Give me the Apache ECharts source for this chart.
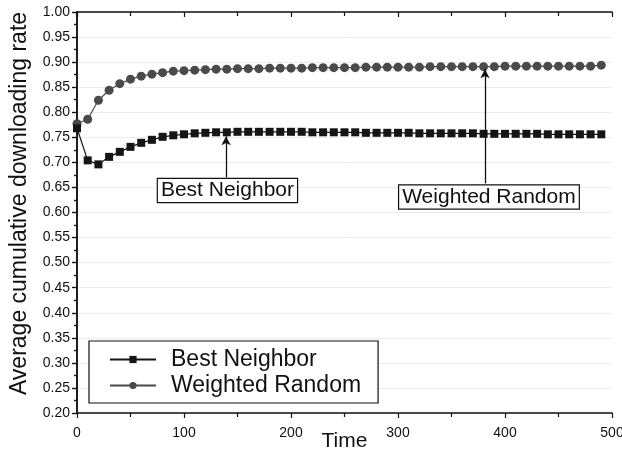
<!DOCTYPE html>
<html>
<head>
<meta charset="utf-8">
<script src="https://cdn.jsdelivr.net/npm/echarts@6/dist/echarts.min.js"></script>
<style>
  html, body { margin: 0; padding: 0; background: #fff; }
  #chart { width: 622px; height: 456px; }
</style>
</head>
<body>
<div id="chart"></div>
<script>
// Simulation time steps
var times = [0, 10, 20, 30, 40, 50, 60, 70, 80, 90,
  100, 110, 120, 130, 140, 150, 160, 170, 180, 190,
  200, 210, 220, 230, 240, 250, 260, 270, 280, 290,
  300, 310, 320, 330, 340, 350, 360, 370, 380, 390,
  400, 410, 420, 430, 440, 450, 460, 470, 480, 490];

// Average cumulative downloading rate per strategy
var bestNeighbor = [0.768, 0.704, 0.696, 0.711, 0.721, 0.731, 0.739, 0.745, 0.751, 0.754,
  0.756, 0.758, 0.759, 0.760, 0.760, 0.761, 0.761, 0.761, 0.761, 0.761,
  0.761, 0.761, 0.760, 0.760, 0.760, 0.760, 0.760, 0.759, 0.759, 0.759,
  0.759, 0.759, 0.758, 0.758, 0.758, 0.758, 0.758, 0.758, 0.757, 0.757,
  0.757, 0.757, 0.757, 0.757, 0.756, 0.756, 0.756, 0.756, 0.756, 0.756];

var weightedRandom = [0.777, 0.786, 0.824, 0.844, 0.857, 0.866, 0.872, 0.876, 0.879, 0.882,
  0.883, 0.884, 0.885, 0.886, 0.886, 0.887, 0.887, 0.887, 0.888, 0.888,
  0.888, 0.888, 0.889, 0.889, 0.889, 0.889, 0.889, 0.890, 0.890, 0.890,
  0.890, 0.890, 0.890, 0.891, 0.891, 0.891, 0.891, 0.891, 0.891, 0.891,
  0.892, 0.892, 0.892, 0.892, 0.892, 0.892, 0.892, 0.892, 0.892, 0.894];

var seriesNames = ['Best Neighbor', 'Weighted Random'];

// Callout boxes: [time, rate] of the label and the arrow from box to curve
var calloutBest = { label: [140.6, 0.644], from: [139.3, 0.670], to: [139.3, 0.752] };
var calloutWeighted = { label: [385, 0.631], from: [381.3, 0.658], to: [381.3, 0.886] };

var FONT = 'Liberation Sans, Arial, sans-serif';

function pairs(xs, ys) {
  return xs.map(function (x, i) { return [x, ys[i]]; });
}

function callout(c, text) {
  return {
    markLine: {
      silent: true,
      symbol: ['none', 'arrow'],
      symbolSize: [7, 9],
      label: { show: false },
      lineStyle: { color: '#111', width: 1.3, type: 'solid' },
      data: [[{ coord: c.from }, { coord: c.to }]],
      animation: false
    },
    markPoint: {
      silent: true,
      symbol: 'rect',
      symbolSize: 1,
      itemStyle: { color: 'rgba(0,0,0,0)' },
      label: {
        show: true,
        position: 'inside',
        formatter: text,
        fontFamily: FONT,
        fontSize: 21,
        color: '#111',
        backgroundColor: '#fff',
        borderColor: '#111',
        borderWidth: 1.2,
        padding: [2, 3, 0, 3]
      },
      data: [{ coord: c.label }],
      animation: false
    }
  };
}

var chart = echarts.init(document.getElementById('chart'), null, { renderer: 'canvas' });

var axisLine = { show: true, lineStyle: { color: '#111', width: 1.5 } };

var bestSeries = Object.assign({
  name: seriesNames[0],
  type: 'line',
  xAxisIndex: 0,
  yAxisIndex: 0,
  data: pairs(times, bestNeighbor),
  symbol: 'rect',
  symbolSize: 8,
  showAllSymbol: true,
  itemStyle: { color: '#151515' },
  lineStyle: { color: '#151515', width: 1.2 },
  z: 3
}, callout(calloutBest, seriesNames[0]));

var weightedSeries = Object.assign({
  name: seriesNames[1],
  type: 'line',
  xAxisIndex: 0,
  yAxisIndex: 0,
  data: pairs(times, weightedRandom),
  symbol: 'circle',
  symbolSize: 9,
  showAllSymbol: true,
  itemStyle: { color: '#4a4a4a' },
  lineStyle: { color: '#4a4a4a', width: 1.2 },
  z: 2
}, callout(calloutWeighted, seriesNames[1]));

chart.setOption({
  animation: false,
  backgroundColor: '#fff',
  grid: { left: 77, right: 10, top: 12, bottom: 43, containLabel: false, outerBoundsMode: 'none' },
  legend: {
    data: seriesNames,
    orient: 'vertical',
    left: 89,
    top: 341,
    padding: [7, 17, 6, 20],
    itemGap: 3,
    itemWidth: 46,
    itemHeight: 9,
    borderColor: '#111',
    borderWidth: 1.2,
    backgroundColor: '#fff',
    textStyle: { fontFamily: FONT, fontSize: 23, color: '#111', padding: [0, 0, 0, 10] },
    selectedMode: false
  },
  xAxis: [{
    type: 'value',
    min: 0, max: 500, interval: 100,
    name: 'Time',
    nameLocation: 'middle',
    nameGap: 18,
    nameMoveOverlap: false,
    nameTextStyle: { fontFamily: FONT, fontSize: 21, color: '#111' },
    axisLine: axisLine,
    axisTick: { show: true, inside: false, length: 5, lineStyle: { color: '#111', width: 1.2 } },
    minorTick: { show: true, splitNumber: 2, length: 4, lineStyle: { color: '#111', width: 1.2 } },
    axisLabel: { fontFamily: FONT, fontSize: 14, color: '#111', margin: 13 },
    splitLine: { show: false }
  }, {
    type: 'value',
    position: 'top',
    min: 0, max: 500, interval: 100,
    axisLine: axisLine,
    axisTick: { show: true, inside: true, length: 5, lineStyle: { color: '#111', width: 1.2 } },
    minorTick: { show: true, splitNumber: 2, length: 4, lineStyle: { color: '#111', width: 1.2 } },
    axisLabel: { show: false },
    splitLine: { show: false }
  }],
  yAxis: [{
    type: 'value',
    min: 0.20, max: 1.00, interval: 0.05,
    name: 'Average cumulative downloading rate',
    nameLocation: 'middle',
    nameGap: 46,
    nameMoveOverlap: false,
    nameTextStyle: { fontFamily: FONT, fontSize: 23, color: '#111', padding: [0, 0, 0, 18] },
    axisLine: axisLine,
    axisTick: { show: true, inside: false, length: 5, lineStyle: { color: '#111', width: 1.2 } },
    minorTick: { show: true, splitNumber: 2, length: 3, lineStyle: { color: '#111', width: 1.2 } },
    axisLabel: {
      fontFamily: FONT, fontSize: 14, color: '#111', margin: 7,
      formatter: function (v) { return v.toFixed(2); }
    },
    splitLine: { show: true, lineStyle: { color: '#ececec', width: 1 } }
  }, {
    type: 'value',
    position: 'right',
    min: 0.20, max: 1.00, interval: 0.05,
    axisLine: axisLine,
    axisTick: { show: true, inside: true, length: 5, lineStyle: { color: '#111', width: 1.2 } },
    minorTick: { show: true, splitNumber: 2, length: 3, lineStyle: { color: '#111', width: 1.2 } },
    axisLabel: { show: false },
    splitLine: { show: false }
  }],
  series: [bestSeries, weightedSeries]
});
</script>
</body>
</html>
